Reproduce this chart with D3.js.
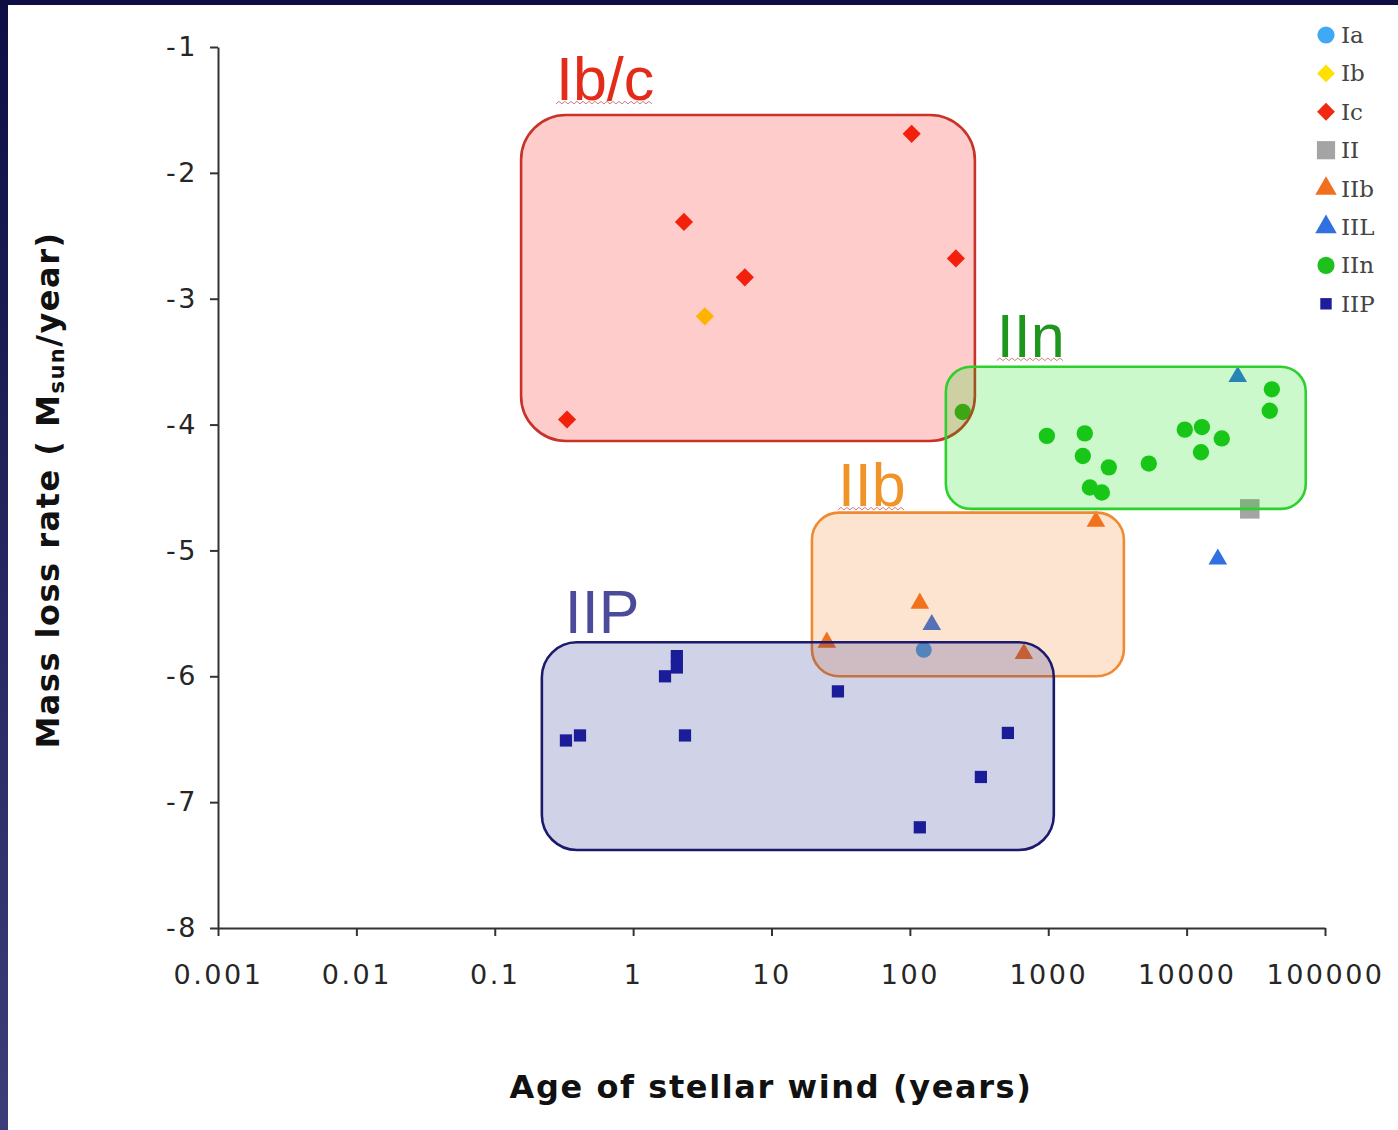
<!DOCTYPE html>
<html>
<head>
<meta charset="utf-8">
<script src="https://cdn.jsdelivr.net/npm/d3@7"></script>
<style>
  html, body { margin: 0; padding: 0; background: #fff; }
  svg { display: block; }
</style>
</head>
<body>
<svg id="chart" width="1398" height="1130"></svg>
<script>
// ---------- DATA ----------
const types = ["Ia", "Ib", "Ic", "II", "IIb", "IIL", "IIn", "IIP"];

const iaAge  = [126];
const iaRate = [-5.79];
const ibAge  = [3.3];
const ibRate = [-3.14];
const icAge  = [103, 2.33, 6.42, 215, 0.333];
const icRate = [-1.69, -2.39, -2.83, -2.68, -3.96];
const iiAge  = [28600];
const iiRate = [-4.67];
const iibAge  = [2210, 118, 25.1, 667];
const iibRate = [-4.77, -5.42, -5.73, -5.82];
const iilAge  = [23400, 16800, 144];
const iilRate = [-3.62, -5.07, -5.59];
const iinAge  = [241, 977, 1837, 1778, 2740, 2000, 2440, 5330, 9700, 12900, 17950, 12700, 41300, 39900];
const iinRate = [-3.90, -4.09, -4.07, -4.25, -4.34, -4.50, -4.54, -4.31, -4.04, -4.02, -4.11, -4.22, -3.72, -3.89];
const iipAge  = [0.327, 0.413, 1.70, 2.07, 2.07, 2.37, 30.2, 118, 326, 511];
const iipRate = [-6.51, -6.47, -6.00, -5.93, -5.84, -6.47, -6.12, -7.20, -6.80, -6.45];

// Group regions (in data units)
const groups        = ["Ib/c", "IIn", "IIb", "IIP"];
const groupAgeMin   = [0.155, 182, 19.6, 0.219];
const groupAgeMax   = [295, 72600, 3520, 1097];
const groupRateTop  = [-1.54, -3.54, -4.70, -5.73];
const groupRateBot  = [-4.13, -4.67, -6.00, -7.38];
const groupLabelAge  = [0.277, 425, 30.2, 0.321];
const groupLabelRate = [-1.42, -3.46, -4.646, -5.66];

// Axis ticks
const xTickValues = [0.001, 0.01, 0.1, 1, 10, 100, 1000, 10000, 100000];
const xTickLabels = ["0.001", "0.01", "0.1", "1", "10", "100", "1000", "10000", "100000"];
const yTickValues = [-1, -2, -3, -4, -5, -6, -7, -8];
const yTickLabels = ["-1", "-2", "-3", "-4", "-5", "-6", "-7", "-8"];

// ---------- STYLE ----------
const W = 1398, H = 1130;
const plot = { left: 218, right: 1325, top: 47, bottom: 928 };

const typeStyle = {
  Ia:  { shape: "circle",   color: "#3fa9f5", size: 200 },
  Ib:  { shape: "diamond",  color: "#ffe000", size: 165 },
  Ic:  { shape: "diamond",  color: "#f02a10", size: 165 },
  II:  { shape: "square",   color: "#a4a4a4", size: 380 },
  IIb: { shape: "triangle", color: "#f07020", size: 150 },
  IIL: { shape: "triangle", color: "#3070e0", size: 150 },
  IIn: { shape: "circle",   color: "#1ec01e", size: 210 },
  IIP: { shape: "square",   color: "#1c1c9c", size: 150 }
};
const legendSize = { Ia: 230, Ib: 160, Ic: 160, II: 330, IIb: 200, IIL: 200, IIn: 230, IIP: 130 };

const groupStyle = {
  "Ib/c": { fill: "rgb(255,0,0)",   stroke: "#c83228", label: "#e42b1a", r: 45 },
  "IIn":  { fill: "rgb(0,225,0)",   stroke: "#2ed02e", label: "#1e961e", r: 25 },
  "IIb":  { fill: "rgb(245,120,20)",stroke: "#f08a30", label: "#f0942a", r: 27 },
  "IIP":  { fill: "rgb(20,30,140)", stroke: "#1a1a6e", label: "#4b4b9b", r: 35 }
};

const series = [
  ["Ia", iaAge, iaRate], ["Ib", ibAge, ibRate], ["Ic", icAge, icRate],
  ["II", iiAge, iiRate], ["IIb", iibAge, iibRate], ["IIL", iilAge, iilRate],
  ["IIn", iinAge, iinRate], ["IIP", iipAge, iipRate]
];

// ---------- DRAW ----------
const svg = d3.select("#chart");

// frame
const defs = svg.append("defs");
const grad = defs.append("linearGradient").attr("id", "leftband")
  .attr("x1", 0).attr("y1", 0).attr("x2", 0).attr("y2", 1);
grad.append("stop").attr("offset", "0%").attr("stop-color", "#0e0e45");
grad.append("stop").attr("offset", "100%").attr("stop-color", "#3d3d7a");
svg.append("rect").attr("width", W).attr("height", H).attr("fill", "#fff");
svg.append("rect").attr("x", 0).attr("y", 0).attr("width", W).attr("height", 5).attr("fill", "#0e0e45");
svg.append("rect").attr("x", 0).attr("y", 0).attr("width", 8).attr("height", H).attr("fill", "url(#leftband)");

const x = d3.scaleLog().domain([0.001, 100000]).range([plot.left, plot.right]);
const y = d3.scaleLinear().domain([-1, -8]).range([plot.top, plot.bottom]);

function symbolPath(shape, size) {
  const t = shape === "circle" ? d3.symbolCircle
          : shape === "triangle" ? d3.symbolTriangle
          : d3.symbolSquare;
  return d3.symbol().type(t).size(size)();
}
function symbolTransform(shape, px, py) {
  return `translate(${px},${py})` + (shape === "diamond" ? " rotate(45)" : "");
}

// points
const pts = svg.append("g");
series.forEach(([t, ages, rates]) => {
  const st = typeStyle[t];
  pts.selectAll(null).data(ages.map((a, i) => ({ a, r: rates[i] })))
    .join("path")
    .attr("d", symbolPath(st.shape, st.size))
    .attr("transform", d => symbolTransform(st.shape, x(d.a), y(d.r)))
    .attr("fill", st.color);
});

// group boxes (semi-transparent, on top of points)
const boxes = svg.append("g");
groups.forEach((g, i) => {
  const gs = groupStyle[g];
  const x0 = x(groupAgeMin[i]), x1 = x(groupAgeMax[i]);
  const y0 = y(groupRateTop[i]), y1 = y(groupRateBot[i]);
  boxes.append("rect")
    .attr("x", x0).attr("y", y0).attr("width", x1 - x0).attr("height", y1 - y0)
    .attr("rx", gs.r).attr("ry", gs.r)
    .attr("fill", gs.fill).attr("fill-opacity", 0.2)
    .attr("stroke", gs.stroke).attr("stroke-width", 2.6);
});

// group labels
const labels = svg.append("g");
groups.forEach((g, i) => {
  const gs = groupStyle[g];
  const lx = x(groupLabelAge[i]), ly = y(groupLabelRate[i]);
  const txt = labels.append("text")
    .attr("x", lx).attr("y", ly)
    .attr("font-family", "'Liberation Sans', Arial, sans-serif")
    .attr("font-size", 61)
    .attr("fill", gs.label)
    .text(g);
  if (g !== "IIP") {
    const w = txt.node().getComputedTextLength();
    let p = `M${lx},${ly + 4}`;
    const step = 3;
    let k = 0;
    for (let xx = lx + step; xx <= lx + w; xx += step, k++) {
      p += ` L${xx},${ly + (k % 2 === 0 ? 1.5 : 4)}`;
    }
    labels.append("path").attr("d", p).attr("fill", "none")
      .attr("stroke", "#c05050").attr("stroke-opacity", 0.75).attr("stroke-width", 1);
  }
});

// axes
const fontTick = "'DejaVu Sans', Verdana, sans-serif";
const xAxis = svg.append("g").attr("transform", `translate(0,${plot.bottom})`)
  .call(d3.axisBottom(x).tickValues(xTickValues)
    .tickFormat((d, i) => xTickLabels[i]).tickSize(8).tickSizeOuter(0).tickPadding(29));
const yAxis = svg.append("g").attr("transform", `translate(${plot.left},0)`)
  .call(d3.axisLeft(y).tickValues(yTickValues)
    .tickFormat((d, i) => yTickLabels[i]).tickSize(8).tickSizeOuter(0).tickPadding(12));
[xAxis, yAxis].forEach(a => {
  a.select(".domain").attr("stroke", "#333").attr("stroke-width", 2);
  a.selectAll(".tick line").attr("stroke", "#333").attr("stroke-width", 2);
  a.selectAll(".tick text").attr("font-family", fontTick).attr("font-size", 27)
    .attr("fill", "#262626").attr("letter-spacing", 2.5);
});
yAxis.selectAll(".tick text").attr("letter-spacing", 2.5);

// axis titles
svg.append("text")
  .attr("x", 771).attr("y", 1098)
  .attr("text-anchor", "middle")
  .attr("font-family", "'DejaVu Sans', Verdana, sans-serif")
  .attr("font-weight", "bold").attr("font-size", 32).attr("letter-spacing", 1.6)
  .attr("fill", "#111")
  .text("Age of stellar wind (years)");

const yt = svg.append("text")
  .attr("transform", "translate(59,490) rotate(-90)")
  .attr("text-anchor", "middle")
  .attr("font-family", "'DejaVu Sans', Verdana, sans-serif")
  .attr("font-weight", "bold").attr("font-size", 32).attr("letter-spacing", 1.5)
  .attr("fill", "#111");
yt.append("tspan").text("Mass loss rate ( M");
yt.append("tspan").attr("font-size", 21).attr("dy", 5).text("sun");
yt.append("tspan").attr("dy", -5).text("/year)");

// legend
const leg = svg.append("g");
types.forEach((t, i) => {
  const st = typeStyle[t];
  const ly = 35 + i * 38.4;
  leg.append("path")
    .attr("d", symbolPath(st.shape, legendSize[t]))
    .attr("transform", symbolTransform(st.shape, 1326, ly))
    .attr("fill", st.color);
  leg.append("text")
    .attr("x", 1341).attr("y", ly + 8)
    .attr("font-family", "'DejaVu Serif', serif")
    .attr("font-size", 23).attr("fill", "#444")
    .text(t);
});
</script>
</body>
</html>
